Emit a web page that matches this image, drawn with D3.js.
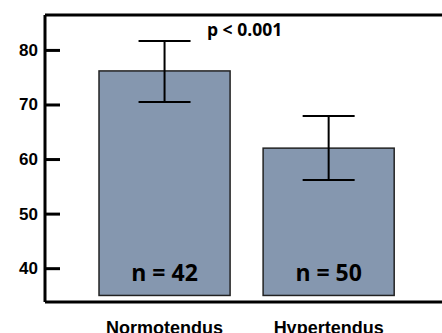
<!DOCTYPE html>
<html><head><meta charset="utf-8">
<script src="https://cdn.jsdelivr.net/npm/d3@7"></script>
<style>html,body{margin:0;padding:0;background:#fff;}svg{display:block;}</style>
</head><body>
<svg id="c" width="442" height="333"></svg>
<script>
const categories = ["Normotendus", "Hypertendus"];
const means = [76.15, 62.0];
const errUpper = [81.65, 67.9];
const errLower = [70.45, 56.15];
const nLabels = ["n = 42", "n = 50"];
const yTicks = [40, 50, 60, 70, 80];
const annotation = "p < 0.001";

const svg = d3.select("#c");
const y = d3.scaleLinear().domain([33.8, 86.4]).range([302, 15]);
const x = d3.scaleBand().domain(categories).range([82.6, 410.6]).paddingInner(0.2012).paddingOuter(0.1);
const base = 35;

// bars
svg.selectAll("rect.bar").data(categories).enter().append("rect")
  .attr("x", d => x(d)).attr("width", x.bandwidth())
  .attr("y", (d,i) => y(means[i])).attr("height", (d,i) => y(base) - y(means[i]))
  .attr("fill", "#8597AF").attr("stroke", "#222").attr("stroke-width", 1.5);

// error bars
const cap = 26;
categories.forEach((c, i) => {
  const cx = x(c) + x.bandwidth() / 2;
  const g = svg.append("g").attr("stroke", "#000").attr("stroke-width", 2);
  g.append("line").attr("x1", cx).attr("x2", cx).attr("y1", y(errUpper[i])).attr("y2", y(errLower[i]));
  g.append("line").attr("x1", cx - cap).attr("x2", cx + cap).attr("y1", y(errUpper[i])).attr("y2", y(errUpper[i]));
  g.append("line").attr("x1", cx - cap).attr("x2", cx + cap).attr("y1", y(errLower[i])).attr("y2", y(errLower[i]));
  svg.append("text").attr("x", cx).attr("y", 281).attr("text-anchor", "middle")
    .attr("font-family", "'Open Sans', sans-serif").attr("font-weight", "bold").attr("font-size", 23)
    .attr("fill", "#000").text(nLabels[i]);
  svg.append("text").attr("x", cx).attr("y", 334).attr("text-anchor", "middle")
    .attr("font-family", "'Liberation Sans', Arial, sans-serif").attr("font-weight", "bold").attr("font-size", 18)
    .attr("fill", "#000").text(c);
});

// axis frame
const yDom = y.domain();
svg.append("line").attr("x1", 45).attr("x2", 442).attr("y1", y(yDom[1])).attr("y2", y(yDom[1])).attr("stroke", "#000").attr("stroke-width", 3);
svg.append("line").attr("x1", 45).attr("x2", 442).attr("y1", y(yDom[0])).attr("y2", y(yDom[0])).attr("stroke", "#000").attr("stroke-width", 3);

const axis = svg.append("g").attr("transform", "translate(45,0)")
  .call(d3.axisRight(y).tickValues(yTicks).tickSize(15).tickFormat(""));
axis.select(".domain").attr("stroke", "#000").attr("stroke-width", 3).attr("d", `M0,${y(yDom[1])}V${y(yDom[0])}`);
axis.selectAll(".tick line").attr("stroke", "#000").attr("stroke-width", 3);

svg.selectAll("text.tl").data(yTicks).enter().append("text")
  .attr("x", 38).attr("y", d => y(d) + 6).attr("text-anchor", "end")
  .attr("font-family", "'Liberation Sans', Arial, sans-serif").attr("font-weight", "bold").attr("font-size", 17)
  .attr("fill", "#000").text(d => d);

svg.append("text").attr("x", 207).attr("y", 36)
  .attr("font-family", "'Open Sans', sans-serif").attr("font-weight", "bold").attr("font-size", 17.5)
  .attr("fill", "#000").text(annotation);
</script>
</body></html>
